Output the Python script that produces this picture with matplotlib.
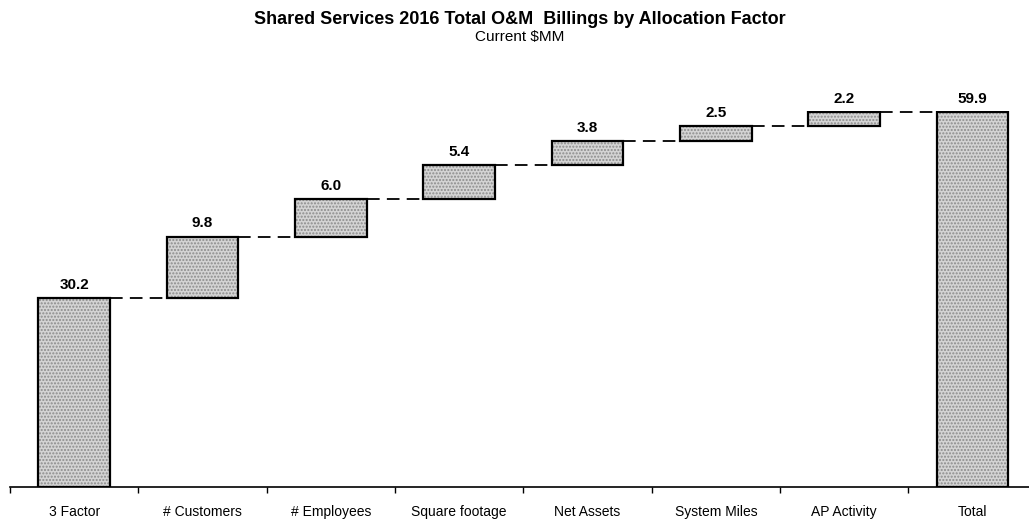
import matplotlib.pyplot as plt
import numpy as np

categories = ['3 Factor', '# Customers', '# Employees', 'Square footage',
              'Net Assets', 'System Miles', 'AP Activity', 'Total']
steps = [30.2, 9.8, 6.0, 5.4, 3.8, 2.5, 2.2]
total = 59.9

plt.rcParams['font.family'] = ['Liberation Sans', 'DejaVu Sans']

values = steps + [total]
bottoms = list(np.concatenate([[0], np.cumsum(steps)[:-1]])) + [0]
x = np.arange(len(categories))
width = 0.56

fig = plt.figure(figsize=(10.29, 5.19), dpi=100)
ax = fig.add_axes([10 / 1029, 32 / 519, 1019 / 1029, 375.6 / 519])

# stippled grey fill, then black outline on top
ax.bar(x, values, width, bottom=bottoms, color='#d4d4d4', edgecolor='#8c8c8c',
       hatch='.....', linewidth=0)
ax.bar(x, values, width, bottom=bottoms, fill=False, edgecolor='black', linewidth=1.6)

# dashed connectors
tops = [b + v for b, v in zip(bottoms, values)]
for i in range(len(categories) - 1):
    ax.plot([x[i] + width / 2, x[i + 1] - width / 2], [tops[i], tops[i]],
            color='black', linewidth=1.3, dashes=(7, 4))

for xi, t, v in zip(x, tops, values):
    ax.text(xi, t + 1.0, f'{v:.1f}', ha='center', va='bottom',
            fontsize=11, fontweight='bold')

ax.set_xlim(-0.5, 7.44)
ax.set_ylim(0, 60)
ax.set_xticks(np.arange(-0.5, 7.0, 1.0))
ax.set_xticklabels([])
ax.set_xticks(x, minor=True)
ax.set_xticklabels(categories, minor=True, fontsize=10)
ax.tick_params(axis='x', which='major', direction='out', length=4, width=1)
ax.tick_params(axis='x', which='minor', length=0, pad=13)
ax.set_yticks([])
for side in ['left', 'right', 'top']:
    ax.spines[side].set_visible(False)
ax.spines['bottom'].set_linewidth(1.2)

fig.text(0.505, 1 - 20 / 519, 'Shared Services 2016 Total O&M  Billings by Allocation Factor',
         ha='center', va='center', fontsize=13, fontweight='bold')
fig.text(0.505, 1 - 37 / 519, 'Current $MM', ha='center', va='center', fontsize=11)

plt.savefig('out.png')
